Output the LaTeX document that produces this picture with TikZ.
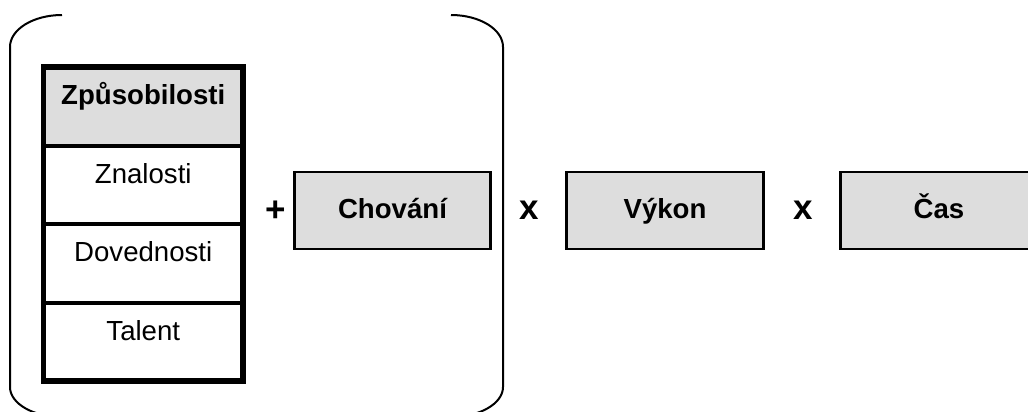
\documentclass[tikz,border=0pt]{standalone}
\usepackage{fontspec}
\setmainfont{Liberation Sans}
\definecolor{boxgray}{RGB}{221,221,221}
\begin{document}
\begin{tikzpicture}[x=0.5pt,y=-0.5pt,
  cell/.style={draw=black,line width=1pt,fill=white,minimum width=98.75pt,
    minimum height=38.25pt,inner sep=0pt,text height=18.4pt,text depth=19.85pt,
    font=\fontsize{13.8}{16}\selectfont},
  headcell/.style={cell,fill=boxgray,font=\fontsize{13.8}{16}\selectfont\bfseries},
  termbox/.style={draw=black,line width=1.4pt,fill=boxgray,minimum width=98.25pt,
    minimum height=38.5pt,inner sep=0pt,text height=9.8pt,text depth=1.5pt,
    font=\fontsize{13.8}{16}\selectfont\bfseries},
  op/.style={inner sep=0pt,font=\fontsize{17.5}{20}\selectfont\bfseries},
  bracket/.style={draw=black,line width=1pt}]

\useasboundingbox (0,0) rectangle (1028,412);
\clip (0,0) rectangle (1028,412);

% enclosing round bracket around the abilities and behaviour
\draw[bracket] (62,15) .. controls (33.3,15) and (10,29.3) .. (10,47)
  -- (10,387) .. controls (10,403.6) and (33.3,417) .. (62,417);
\draw[bracket] (451,15) .. controls (479.7,15) and (503,29.3) .. (503,47)
  -- (503,387) .. controls (503,403.6) and (479.7,417) .. (451,417);

% abilities table
\node[headcell,anchor=north] (hdr) at (143.25,67) {Způsobilosti};
\node[cell,anchor=north] (kno) at (hdr.south) {Znalosti};
\node[cell,anchor=north] (ski) at (kno.south) {Dovednosti};
\node[cell,anchor=north] (tal) at (ski.south) {Talent};
\draw[line width=2.75pt] (hdr.north west) rectangle (tal.south east);

% formula terms
\node[op] (plus) at (275.5,211) {+};
\node[termbox] (beh) at (392.5,210.5) {Chování};
\node[op] (times1) at (529.5,210.5) {x};
\node[termbox] (perf) at (665,210.5) {Výkon};
\node[op] (times2) at (803.5,210.5) {x};
\node[termbox] (time) at (939,210.5) {Čas};
\end{tikzpicture}
\end{document}
